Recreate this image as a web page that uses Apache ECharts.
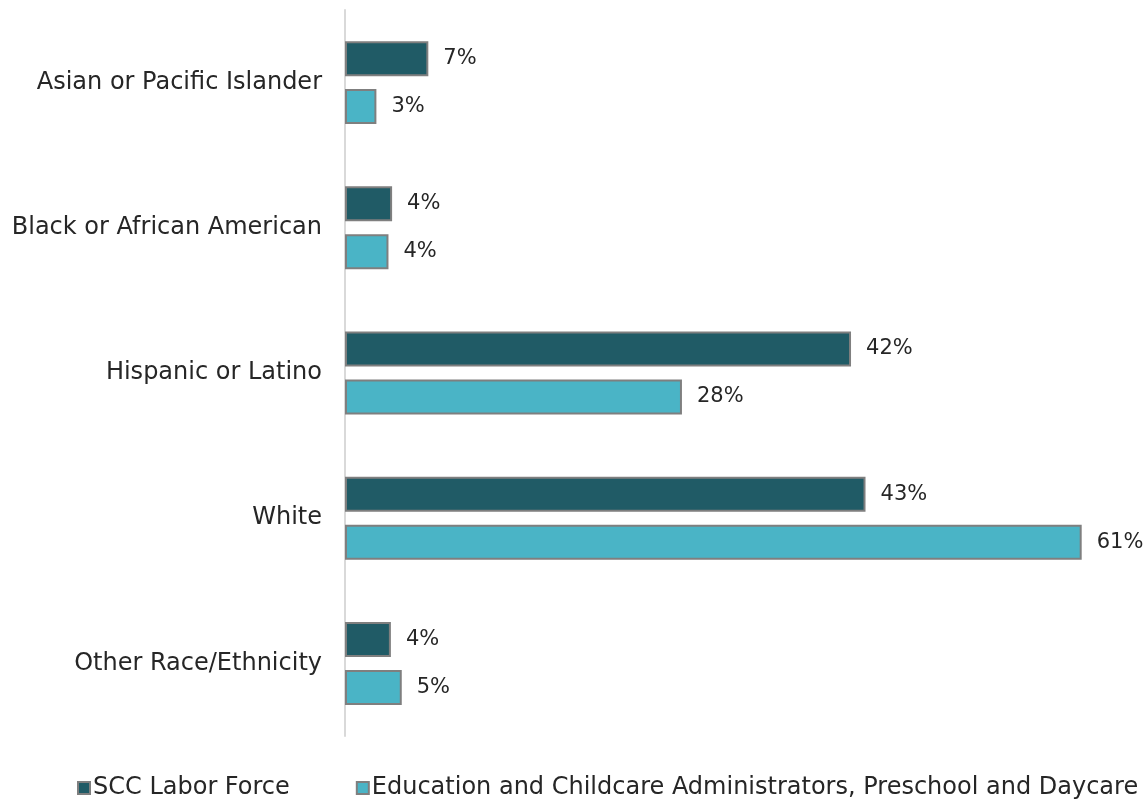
<!DOCTYPE html>
<html><head><meta charset="utf-8">
<script src="https://cdn.jsdelivr.net/npm/echarts@6/dist/echarts.min.js"></script>
<style>html,body{margin:0;padding:0;background:#fff}#c{width:1148px;height:801px}</style>
</head><body><div id="c"></div>
<script>
const categories = ["Asian or Pacific Islander","Black or African American","Hispanic or Latino","White","Other Race/Ethnicity"];
const seriesNames = ["SCC Labor Force","Education and Childcare Administrators, Preschool and Daycare"];
const laborForce = [6.9, 3.9, 41.9, 43.1, 3.8];
const childcareAdmin = [2.6, 3.6, 27.9, 61.0, 4.7];
const laborLabels = ["7%","4%","42%","43%","4%"];
const adminLabels = ["3%","4%","28%","61%","5%"];

const FONT = "DejaVu Sans";
const FS = 24;
const chart = echarts.init(document.getElementById('c'));
const lbl = (arr) => ({show:true, position:'right', distance:15, color:'#262626', fontSize:21, fontFamily:FONT,
  formatter: p => arr[p.dataIndex]});
chart.setOption({
  animation:false,
  textStyle:{fontFamily:FONT},
  grid:{left:345, right:18, top:10, bottom:65, containLabel:false},
  xAxis:{type:'value', min:0, max:65, show:false, splitLine:{show:false}},
  yAxis:{type:'category', data:categories, inverse:true,
    axisLine:{show:true, lineStyle:{color:'#d9d9d9', width:2}},
    axisTick:{show:false},
    axisLabel:{color:'#262626', fontSize:FS, fontFamily:FONT, margin:23}},
  legend:{top:771, left:72, itemWidth:12, itemHeight:12, itemGap:66, icon:'rect',
    textStyle:{color:'#262626', fontSize:FS, fontFamily:FONT, padding:[0,0,0,-2]}},
  series:[
    {name:seriesNames[0], type:'bar', data:laborForce, barWidth:35, barGap:'37%',
     itemStyle:{color:'#205b66', borderColor:'#7f7f7f', borderWidth:2}, label:lbl(laborLabels)},
    {name:seriesNames[1], type:'bar', data:childcareAdmin, barWidth:35, barGap:'37%',
     itemStyle:{color:'#4ab4c6', borderColor:'#7f7f7f', borderWidth:2}, label:lbl(adminLabels)}
  ]
});
</script></body></html>
